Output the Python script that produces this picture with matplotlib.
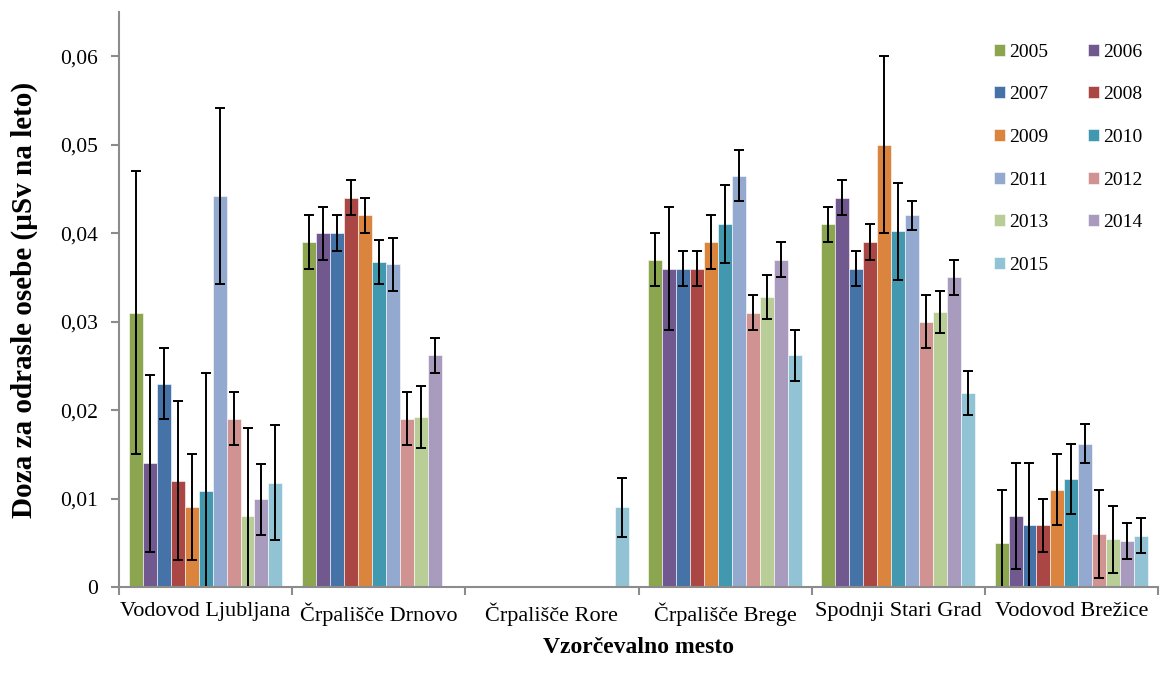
import numpy as np
import matplotlib
matplotlib.use("Agg")
import matplotlib.pyplot as plt
from matplotlib.ticker import FuncFormatter, FixedLocator

plt.rcParams['font.family'] = ['Liberation Serif', 'DejaVu Serif']

categories = ["Vodovod Ljubljana", "Črpališče Drnovo", "Črpališče Rore",
              "Črpališče Brege", "Spodnji Stari Grad", "Vodovod Brežice"]
years = ["2005", "2006", "2007", "2008", "2009", "2010",
         "2011", "2012", "2013", "2014", "2015"]
nan = np.nan
# values per year, ordered by category
v2005 = [0.031, 0.039, nan, 0.037, 0.041, 0.005]
v2006 = [0.014, 0.040, nan, 0.036, 0.044, 0.008]
v2007 = [0.023, 0.040, nan, 0.036, 0.036, 0.007]
v2008 = [0.012, 0.044, nan, 0.036, 0.039, 0.007]
v2009 = [0.009, 0.042, nan, 0.039, 0.050, 0.011]
v2010 = [0.0108, 0.0367, nan, 0.041, 0.0402, 0.0122]
v2011 = [0.0442, 0.0365, nan, 0.0465, 0.042, 0.0162]
v2012 = [0.019, 0.019, nan, 0.031, 0.030, 0.006]
v2013 = [0.008, 0.0192, nan, 0.0328, 0.0311, 0.0054]
v2014 = [0.0099, 0.0262, nan, 0.037, 0.035, 0.0052]
v2015 = [0.0118, nan, 0.009, 0.0262, 0.0219, 0.0058]
# error (uncertainty) per year
e2005 = [0.016, 0.003, nan, 0.003, 0.002, 0.006]
e2006 = [0.010, 0.003, nan, 0.007, 0.002, 0.006]
e2007 = [0.004, 0.002, nan, 0.002, 0.002, 0.007]
e2008 = [0.009, 0.002, nan, 0.002, 0.002, 0.003]
e2009 = [0.006, 0.002, nan, 0.003, 0.010, 0.004]
e2010 = [0.0134, 0.0025, nan, 0.0044, 0.0055, 0.004]
e2011 = [0.010, 0.003, nan, 0.0029, 0.0016, 0.0022]
e2012 = [0.003, 0.003, nan, 0.002, 0.003, 0.005]
e2013 = [0.010, 0.0035, nan, 0.0025, 0.0024, 0.0038]
e2014 = [0.004, 0.002, nan, 0.002, 0.002, 0.002]
e2015 = [0.0065, nan, 0.0033, 0.0029, 0.0025, 0.002]

values = [v2005, v2006, v2007, v2008, v2009, v2010, v2011, v2012, v2013, v2014, v2015]
errors = [e2005, e2006, e2007, e2008, e2009, e2010, e2011, e2012, e2013, e2014, e2015]
colors = ["#8BA64E", "#71588F", "#4572A7", "#AA4643", "#DB843D", "#4198AF",
          "#93A9CF", "#D19392", "#B9CD96", "#A99BBD", "#92C3D4"]

fig = plt.figure(figsize=(11.6, 6.84), dpi=100)
ax = fig.add_axes([119/1160, 1 - 587/684, (1158 - 119)/1160, (587 - 12)/684])

x = np.arange(len(categories))
w = 0.0807
handles = []
for i, (yr, vals, errs, c) in enumerate(zip(years, values, errors, colors)):
    pos = x + (i - 5) * w
    b = ax.bar(pos, vals, width=w, color=c, edgecolor='white', linewidth=0.4, label=yr)
    ax.errorbar(pos, vals, yerr=errs, fmt='none', ecolor='black', elinewidth=1.4,
                capsize=3.5, capthick=1.4)
    handles.append(b)

ax.set_xlim(-0.5, len(categories) - 0.5)
ax.set_ylim(0, 0.065)
ax.set_yticks([0, 0.01, 0.02, 0.03, 0.04, 0.05, 0.06])
ax.yaxis.set_major_formatter(FuncFormatter(lambda v, p: "0" if v == 0 else ("%.2f" % v).replace('.', ',')))
ax.set_xticks(x)
ax.set_xticklabels(categories)
ax.xaxis.set_minor_locator(FixedLocator(np.arange(-0.5, len(categories), 1.0)))
ax.tick_params(axis='x', which='major', length=0, pad=11, labelsize=16)
ax.tick_params(axis='x', which='minor', length=6, width=1.5, color='#8c8c8c', direction='out')
ax.tick_params(axis='y', length=6, width=1.5, color='#8c8c8c', labelsize=15.5, pad=9)
for s in ['top', 'right']:
    ax.spines[s].set_visible(False)
for s in ['left', 'bottom']:
    ax.spines[s].set_color('#8c8c8c')
    ax.spines[s].set_linewidth(1.5)

ax.set_xlabel("Vzorčevalno mesto", fontsize=17, fontweight='bold', labelpad=8)
ax.set_ylabel("Doza za odrasle osebe (µSv na leto)", fontsize=21, fontweight='bold', labelpad=16)

# legend filled row by row (2005 | 2006, 2007 | 2008, ...)
order = [0, 2, 4, 6, 8, 10, 1, 3, 5, 7, 9]
leg = ax.legend(handles=[handles[k] for k in order], labels=[years[k] for k in order],
                ncol=2, loc='upper left',
                bbox_to_anchor=(0.8422, 0.945), frameon=False, fontsize=14,
                borderaxespad=0, borderpad=0,
                handlelength=0.57, handleheight=0.57, handletextpad=0.22,
                columnspacing=2.0, labelspacing=1.32)

fig.savefig("out.png", dpi=100)
